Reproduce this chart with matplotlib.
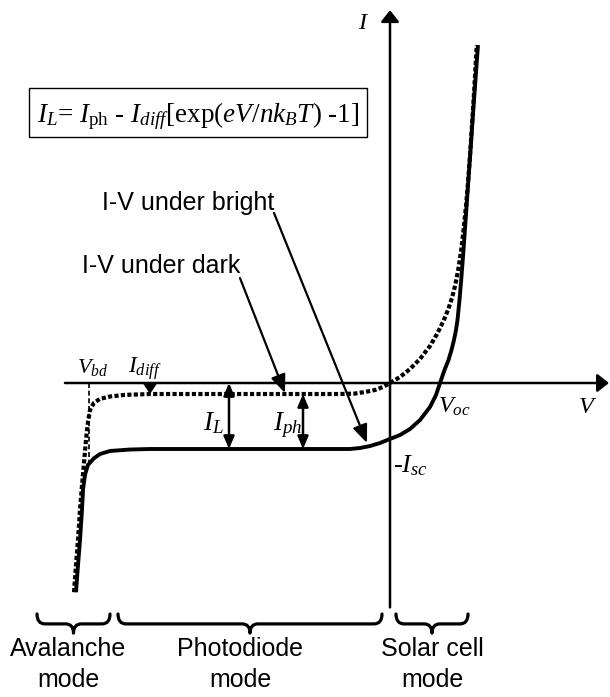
import matplotlib
matplotlib.use("Agg")
import matplotlib.pyplot as plt
from matplotlib.patches import Rectangle, PathPatch
from matplotlib.path import Path

plt.rcParams['mathtext.fontset'] = 'custom'
plt.rcParams['mathtext.rm'] = 'Liberation Serif'
plt.rcParams['mathtext.it'] = 'Liberation Serif:italic'
plt.rcParams['mathtext.bf'] = 'Liberation Serif:bold'

# ---- I-V characteristics (arbitrary units: V, I) ----
v_dark = [-6.32, -6.28, -6.24, -6.20, -6.16, -6.12, -6.08, -6.04, -6.00, -5.92,
          -5.80, -5.60, -5.30, -4.80, -2.80, -1.00, -0.70, -0.50, -0.30, -0.14,
          0.00, 0.20, 0.40, 0.60, 0.80, 0.94, 1.06, 1.16, 1.24, 1.31,
          1.37, 1.43, 1.48, 1.524, 1.564, 1.60, 1.64, 1.684, 1.736]
i_dark = [-3.17, -2.76, -2.38, -1.92, -1.55, -1.21, -0.86, -0.59, -0.41, -0.30,
          -0.24, -0.205, -0.18, -0.167, -0.167, -0.167, -0.16, -0.136, -0.106, -0.06,
          0.00, 0.091, 0.212, 0.364, 0.561, 0.742, 0.924, 1.106, 1.288, 1.50,
          1.742, 2.045, 2.379, 2.712, 3.076, 3.439, 3.909, 4.439, 5.121]

v_bright = [-6.28, -6.24, -6.20, -6.16, -6.14, -6.10, -6.04, -5.92, -5.80, -5.60,
            -5.20, -4.80, -2.80, -0.80, -0.60, -0.40, -0.20, 0.00, 0.20, 0.40,
            0.60, 0.80, 0.92, 1.00, 1.09, 1.17, 1.23, 1.28, 1.32, 1.35,
            1.39, 1.424, 1.47, 1.54, 1.61, 1.68, 1.76]
i_bright = [-3.17, -2.76, -2.38, -1.92, -1.62, -1.39, -1.24, -1.14, -1.076, -1.03,
            -1.008, -1.0, -1.0, -1.0, -0.985, -0.955, -0.909, -0.848, -0.788, -0.697,
            -0.561, -0.364, -0.182, 0.00, 0.197, 0.348, 0.50, 0.652, 0.803, 0.955,
            1.258, 1.561, 2.015, 2.773, 3.53, 4.288, 5.121]

# characteristic values
V_BD = -6.02
V_OC = 1.0
I_DIFF = -0.167
I_LIGHT = -1.0
I_SC = 0.848

# operating regimes (voltage ranges) and their names
mode_names = ["Avalanche\nmode", "Photodiode\nmode", "Solar cell\nmode"]
mode_ranges = [(-7.06, -5.60), (-5.44, -0.16), (0.12, 1.56)]
mode_label_v = [-6.44, -3.0, 0.84]

fig = plt.figure(figsize=(6.10, 6.97), dpi=100)
ax = fig.add_axes([0, 0, 1, 1])
ax.set_xlim(-7.8, 4.4)
ax.set_ylim((383 - 697) / 66, 383 / 66)
ax.axis('off')

serif = 'Liberation Serif'
sans = 'Liberation Sans'
k = 'black'

# coordinate axes with arrow heads
axis_style = dict(arrowstyle='-|>,head_length=0.7,head_width=0.55', mutation_scale=10,
                  lw=1.8, color=k, shrinkA=0, shrinkB=0)
ax.annotate('', xy=(4.38, 0), xytext=(-6.5, 0), arrowprops=axis_style)
ax.annotate('', xy=(0, 5.65), xytext=(0, -3.40), arrowprops=axis_style)
ax.text(-0.64, 5.36, r'$I$', fontsize=17.5, family=serif, ha='left', va='baseline')
ax.text(3.76, -0.455, r'$V$', fontsize=17.5, family=serif, ha='left', va='baseline')

# curves
ax.plot(v_bright, i_bright, color=k, lw=2.8, solid_capstyle='butt', solid_joinstyle='round')
ax.plot(v_dark, i_dark, color=k, lw=3.0, dashes=(1.0, 0.55), dash_capstyle='butt')

# breakdown voltage marker
ax.plot([V_BD, V_BD], [0, -1.25], color=k, lw=1.2, dashes=(3, 1.6))
ax.text(-6.26, 0.15, r'$V_{bd}$', fontsize=16, family=serif, ha='left', va='baseline')

# small diffusion-current arrow
ax.annotate('', xy=(-4.8, I_DIFF), xytext=(-4.8, 0),
            arrowprops=dict(arrowstyle='-|>,head_length=0.6,head_width=0.4', mutation_scale=10,
                            lw=1.5, color=k, shrinkA=0, shrinkB=0))
ax.text(-5.24, 0.15, r'$I_{diff}$', fontsize=17, family=serif, ha='left', va='baseline')

# double arrows for I_L and I_ph
dbl = dict(arrowstyle='<|-|>,head_length=0.75,head_width=0.32', mutation_scale=10,
           lw=1.8, color=k, shrinkA=0, shrinkB=0)
ax.annotate('', xy=(-3.22, 0), xytext=(-3.22, I_LIGHT), arrowprops=dbl)
ax.annotate('', xy=(-1.74, I_DIFF), xytext=(-1.74, I_LIGHT), arrowprops=dbl)
ax.text(-3.74, -0.712, r'$I_L$', fontsize=19.5, family=serif, ha='left', va='baseline')
ax.text(-2.34, -0.712, r'$I_{ph}$', fontsize=19.5, family=serif, ha='left', va='baseline')

ax.text(0.06, -1.35, r'-$I_{sc}$', fontsize=19, family=serif, ha='left', va='baseline')
ax.text(0.96, -0.455, r'$V_{oc}$', fontsize=17.5, family=serif, ha='left', va='baseline')

# pointer labels
ptr = dict(arrowstyle='-|>,head_length=1.1,head_width=0.45', mutation_scale=10,
           lw=1.6, color=k, shrinkA=0, shrinkB=0)
ax.text(-5.76, 2.62, 'I-V under bright', fontsize=18, family=sans, ha='left', va='baseline')
ax.annotate('', xy=(-0.46, -0.909), xytext=(-2.32, 2.576), arrowprops=ptr)
ax.text(-6.16, 1.667, 'I-V under dark', fontsize=18, family=sans, ha='left', va='baseline')
ax.annotate('', xy=(-2.10, -0.152), xytext=(-3.0, 1.59), arrowprops=ptr)

# equation box
ax.add_patch(Rectangle((-7.22, 3.727), 6.76, 0.743, fill=False, lw=1.0, edgecolor=k))
ax.text(-7.06, 3.955,
        r'$I_L$= $I_{\mathrm{ph}}$ - $I_{diff}$[exp($eV/nk_BT$) -1]',
        fontsize=19.5, family=serif, ha='left', va='baseline')

# braces marking the operating regimes
def brace(v0, v1, i_top, i_mid, i_tip, r=0.16):
    vm = 0.5 * (v0 + v1)
    verts = [(v0, i_top), (v0, i_mid), (v0 + r, i_mid),
             (vm - r, i_mid),
             (vm, i_mid), (vm, i_tip),
             (vm, i_mid), (vm + r, i_mid),
             (v1 - r, i_mid),
             (v1, i_mid), (v1, i_top)]
    codes = [Path.MOVETO, Path.CURVE3, Path.CURVE3,
             Path.LINETO,
             Path.CURVE3, Path.CURVE3,
             Path.CURVE3, Path.CURVE3,
             Path.LINETO,
             Path.CURVE3, Path.CURVE3]
    ax.add_patch(PathPatch(Path(verts, codes), fill=False, lw=2.3, edgecolor=k,
                           capstyle='round', joinstyle='round'))

for (v0, v1), name, vl in zip(mode_ranges, mode_names, mode_label_v):
    brace(v0, v1, -3.50, -3.65, -3.79)
    first, second = name.split('\n')
    ax.text(vl, -4.136, first, fontsize=18, family=sans, ha='center', va='baseline')
    ax.text(vl, -4.606, second, fontsize=18, family=sans, ha='center', va='baseline')

fig.savefig('out.png', dpi=100)
